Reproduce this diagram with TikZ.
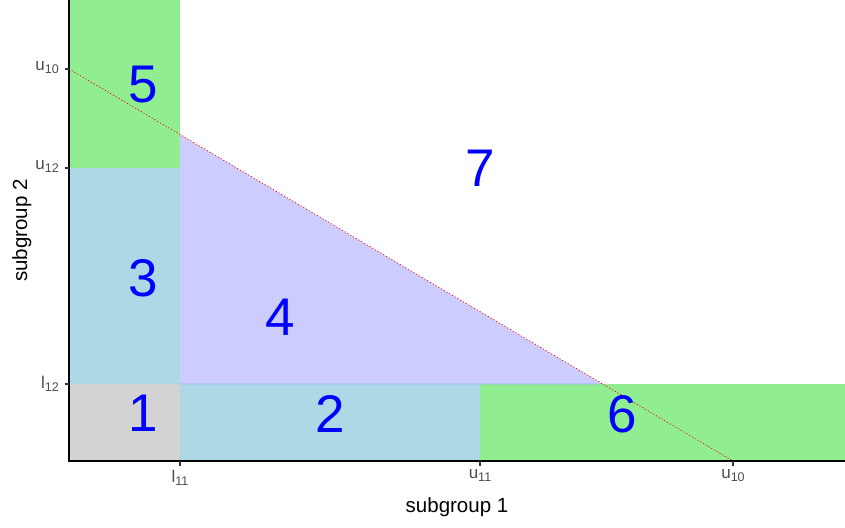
\documentclass[tikz,border=0pt]{standalone}
\usepackage{fontspec}
\setmainfont{Liberation Sans}
\usepackage{xcolor}
\usepackage{tikz}
\usetikzlibrary{calc}
\definecolor{regiongray}{HTML}{D3D3D3}
\definecolor{regionblue}{HTML}{ADD8E6}
\definecolor{regiongreen}{HTML}{90EE90}
\definecolor{regionlav}{HTML}{CCCCFF}
\definecolor{ticktext}{HTML}{4D4D4D}
\definecolor{tickline}{HTML}{333333}
% bound with subscript, e.g. u_10
\newcommand{\bnd}[2]{#1\raisebox{-3pt}{\fontsize{12.5}{12.5}\selectfont #2}}

\begin{document}
\begin{tikzpicture}[
  x=1pt, y=-1pt,
  lbl/.style={text=blue, font=\fontsize{53}{53}\selectfont, inner sep=0pt},
  ticklbl/.style={text=ticktext, font=\fontsize{17}{17}\selectfont, inner sep=0pt},
  axttl/.style={font=\fontsize{20.5}{20.5}\selectfont, inner sep=0pt},
  tickmark/.style={draw=tickline, line width=1.1pt},
  boundline/.style={red, line width=0.7pt, dash pattern=on 1.2pt off 2pt}
]
\useasboundingbox (0,0) rectangle (845,527);
% positions of the bounds
\coordinate (O) at (69,461);
\coordinate (u10y) at (69,69);
\coordinate (u10x) at (733,461);
\coordinate (l11b) at (180,461);
\coordinate (l11t) at (180,0);
\coordinate (l12l) at (69,384);
\coordinate (l12r) at (845,384);
\coordinate (apex) at (intersection of u10y--u10x and l11b--l11t);
\coordinate (foot) at (intersection of u10y--u10x and l12l--l12r);

% regions
\fill[regiongray]  (69,384) rectangle (180,461);
\fill[regionblue]  (180,384) rectangle (480,461);
\fill[regionblue]  (69,168) rectangle (180,384);
\fill[regiongreen] (69,0) rectangle (180,168);
\fill[regiongreen] (480,384) rectangle (845,461);
\fill[regionlav] (180,384) -- (apex) -- (foot) -- cycle;
\draw[blue!15!regionblue, line width=0.8pt] (180,384) -- (foot);
\draw[boundline] (u10y) -- (u10x);

% axes and ticks
\draw[line width=1.1pt] (69,0) -- (O) -- (845,461);
\foreach \xx in {180,480,733}
  \draw[tickmark] (\xx,461) -- (\xx,465.5);
\foreach \yy in {69,168,384}
  \draw[tickmark] (64.5,\yy) -- (69,\yy);

\node[ticklbl, anchor=north] (xl11) at (180,469.5) {\bnd{l}{11}};
\node[ticklbl, anchor=north] (xu11) at (480,469.5) {\bnd{u}{11}};
\node[ticklbl, anchor=north] (xu10) at (733,469.5) {\bnd{u}{10}};
\node[ticklbl, anchor=east] (yu10) at (59,68) {\bnd{u}{10}};
\node[ticklbl, anchor=east] (yu12) at (59,167) {\bnd{u}{12}};
\node[ticklbl, anchor=east] (yl12) at (59,384) {\bnd{l}{12}};

\node[axttl, anchor=north] (xttl) at (457,497.5) {subgroup 1};
\node[axttl, anchor=north, rotate=90] (yttl) at (12,230.5) {subgroup 2};

% region numbers
\node[lbl] (lab1) at (143,413) {1};
\node[lbl] (lab2) at (330,414) {2};
\node[lbl] (lab3) at (143,278) {3};
\node[lbl] (lab4) at (280,317) {4};
\node[lbl] (lab5) at (143,85) {5};
\node[lbl] (lab6) at (622,414) {6};
\node[lbl] (lab7) at (480,168) {7};
\end{tikzpicture}
\end{document}
